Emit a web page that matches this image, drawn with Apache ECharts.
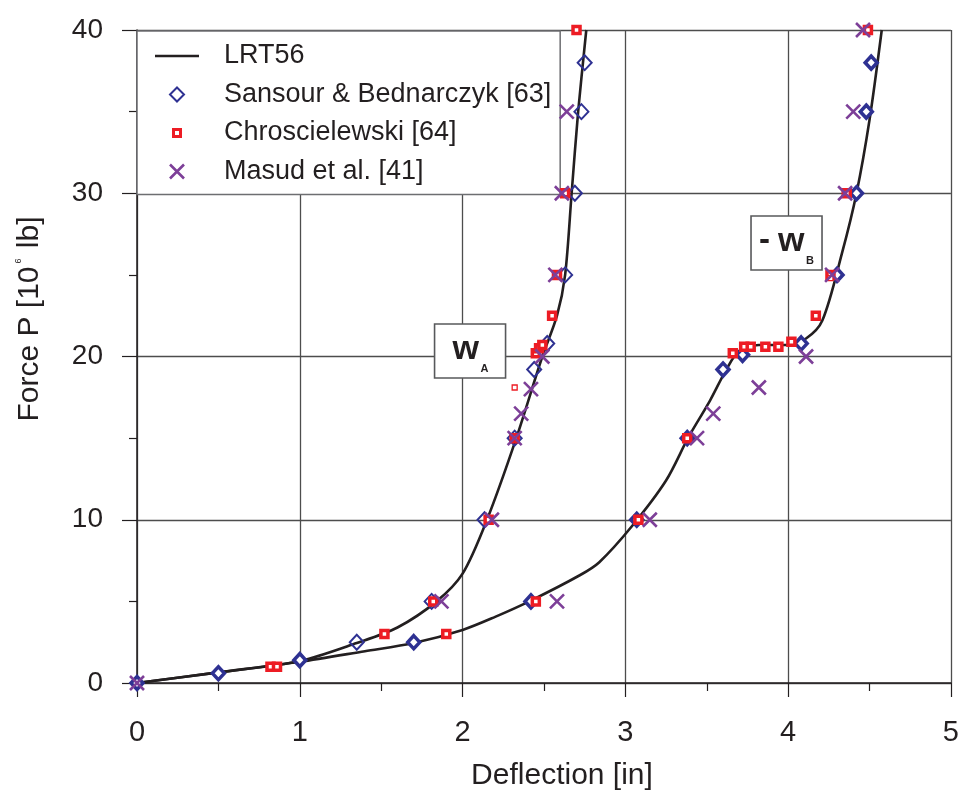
<!DOCTYPE html>
<html>
<head>
<meta charset="utf-8">
<script src="https://cdn.jsdelivr.net/npm/echarts@6/dist/echarts.min.js"></script>
<style>
html,body{margin:0;padding:0;background:#fff;}
#chart{width:962px;height:792px;}
</style>
</head>
<body>
<div id="chart"></div>
<script>
// ---- data (Deflection [in], Force P [10^6 lb]) ----
const xTicks = [0, 1, 2, 3, 4, 5];
const yTicks = [0, 10, 20, 30, 40];

const lrtCurveA = [[0,0],[0.5,0.65],[1.0,1.35],[1.35,2.45],[1.6,3.4],[1.84,5],[2.0,6.7],[2.15,10],[2.33,15],[2.49,20],[2.58,22.5],[2.63,25],[2.67,30],[2.71,35],[2.76,40]];
const lrtCurveB = [[0,0],[0.5,0.65],[1.0,1.3],[1.4,1.95],[1.70,2.45],[2.0,3.25],[2.2,4.05],[2.41,5.0],[2.72,6.6],[2.84,7.4],[3.04,9.6],[3.25,12.4],[3.39,15.1],[3.52,17.3],[3.62,19.2],[3.70,20.35],[3.82,20.7],[3.99,20.7],[4.11,21.1],[4.21,22.2],[4.33,26.3],[4.42,30],[4.50,34.5],[4.575,40]];

const sansourA = [[1.35,2.5],[1.81,5],[2.135,10],[2.32,15],[2.44,19.2],[2.52,20.8],[2.63,25],[2.69,30],[2.73,35],[2.75,38]];
const sansourB = [[0,0],[0.5,0.6],[1.0,1.4],[1.70,2.5],[2.42,5],[3.07,10],[3.38,15],[3.60,19.2],[3.72,20.1],[4.08,20.8],[4.30,25],[4.42,30],[4.48,35],[4.51,38]];

const chrosA = [[0.82,1.0],[0.86,1.0],[1.52,3.0],[1.82,5],[2.16,10],[2.32,15],[2.45,20.2],[2.47,20.5],[2.49,20.7],[2.55,22.5],[2.58,25],[2.63,30],[2.70,40]];
const chrosB = [[1.90,3.0],[2.45,5],[3.08,10],[3.38,15],[3.66,20.2],[3.73,20.6],[3.77,20.6],[3.86,20.6],[3.94,20.6],[4.02,20.9],[4.17,22.5],[4.26,25],[4.36,30],[4.49,40]];
const chrosSmall = [[2.32,18.1],[4.26,24.8]];

const masudA = [[0,0],[1.87,5],[2.18,10],[2.32,15],[2.36,16.5],[2.42,18.0],[2.49,20],[2.57,25],[2.61,30],[2.64,35]];
const masudB = [[2.58,5],[3.15,10],[3.44,15],[3.54,16.5],[3.82,18.1],[4.11,20],[4.27,25],[4.35,30],[4.40,35],[4.46,40]];

const seriesNames = ['LRT56', 'Sansour & Bednarczyk [63]', 'Chroscielewski [64]', 'Masud et al. [41]'];
const annotations = [
  {x: 2.046, y: 20.34, main: 'w', sub: 'A', dash: false},
  {x: 3.99, y: 26.95, main: 'w', sub: 'B', dash: true}
];

// ---- styles ----
const FONT = 'Liberation Sans';
const INK = '#231f20';
const BLUE = '#2e3192';
const RED = '#ed1c24';
const PURPLE = '#7d3f98';
const XPATH = 'path://M0,0L10,10M10,0L0,10';

const chart = echarts.init(document.getElementById('chart'), null, {renderer: 'canvas'});

function lineSeries(data) {
  return {name: seriesNames[0], type: 'line', data: data, smooth: 0.3,
    symbol: 'none', showSymbol: false, lineStyle: {color: INK, width: 2.6}, itemStyle: {color: INK}, z: 2, silent: true};
}
function scatter(name, data, symbol, size, itemStyle, z) {
  itemStyle.opacity = 1;
  return {name: name, type: 'scatter', data: data, symbol: symbol, symbolSize: size,
    itemStyle: itemStyle, clip: false, z: z, silent: true};
}

const option = {
  backgroundColor: '#fff',
  animation: false,
  grid: {left: 137, right: 10, top: 30, bottom: 109, containLabel: false},
  xAxis: {
    type: 'value', min: xTicks[0], max: xTicks[xTicks.length - 1], interval: 1,
    axisLine: {show: true, onZero: false, lineStyle: {color: INK, width: 1.5}},
    axisTick: {show: true, inside: false, length: 14, lineStyle: {color: INK, width: 1.2}},
    minorTick: {show: true, splitNumber: 2, length: 8, lineStyle: {color: INK, width: 1.2}},
    splitLine: {show: true, lineStyle: {color: '#4d4d4d', width: 1.3}},
    axisLabel: {fontSize: 29, fontFamily: FONT, color: INK, margin: 35}
  },
  yAxis: {
    type: 'value', min: yTicks[0], max: yTicks[yTicks.length - 1], interval: 10,
    axisLine: {show: true, onZero: false, lineStyle: {color: INK, width: 1.5}},
    axisTick: {show: true, inside: false, length: 15, lineStyle: {color: INK, width: 1.2}},
    minorTick: {show: true, splitNumber: 2, length: 8, lineStyle: {color: INK, width: 1.2}},
    splitLine: {show: true, lineStyle: {color: '#4d4d4d', width: 1.3}},
    axisLabel: {fontSize: 28, fontFamily: FONT, color: INK, margin: 34}
  },
  legend: {
    orient: 'vertical', left: 137, top: 31,
    backgroundColor: '#fff', borderColor: '#6d6e71', borderWidth: 1.5,
    padding: [10, 9, 8, 18], itemWidth: 44, itemHeight: 14, itemGap: 8.5,
    symbolKeepAspect: true,
    textStyle: {fontSize: 27, fontFamily: FONT, color: INK, lineHeight: 30, padding: [0, 0, 0, 20]},
    data: [
      {name: seriesNames[0], icon: 'path://M0,0H44V2.6H0Z', itemStyle: {color: INK, borderWidth: 0}},
      {name: seriesNames[1], icon: 'path://M7,0L14,7L7,14L0,7Z', itemStyle: {color: '#fff', borderColor: BLUE, borderWidth: 2}},
      {name: seriesNames[2], icon: 'path://M-2,-2L-2,-2M0,0H10V10H0ZM3,3V7H7V3ZM12,12L12,12', itemStyle: {color: RED, borderWidth: 0}},
      {name: seriesNames[3], icon: 'path://M0,0L14,14M14,0L0,14', itemStyle: {color: 'rgba(0,0,0,0)', borderColor: PURPLE, borderWidth: 2.6}}
    ]
  },
  series: [
    lineSeries(lrtCurveA),
    lineSeries(lrtCurveB),
    scatter(seriesNames[1], sansourB, 'diamond', [12, 13], {color: '#fff', borderColor: BLUE, borderWidth: 3.5}, 3),
    scatter(seriesNames[1], sansourA, 'diamond', [14, 15], {color: 'rgba(255,255,255,0)', borderColor: BLUE, borderWidth: 2}, 3),
    scatter(seriesNames[2], chrosA, 'rect', 7, {color: '#fff', borderColor: RED, borderWidth: 3.5}, 4),
    scatter(seriesNames[2], chrosB, 'rect', 7, {color: '#fff', borderColor: RED, borderWidth: 3.5}, 4),
    scatter(seriesNames[2], chrosSmall, 'rect', 5, {color: '#fff', borderColor: RED, borderWidth: 1.3}, 4),
    scatter(seriesNames[3], masudA, XPATH, 14, {color: 'rgba(0,0,0,0)', borderColor: PURPLE, borderWidth: 2.6}, 5),
    scatter(seriesNames[3], masudB, XPATH, 14, {color: 'rgba(0,0,0,0)', borderColor: PURPLE, borderWidth: 2.6}, 5)
  ]
};
chart.setOption(option);

// ---- axis titles and annotation boxes ----
const graphics = [
  {type: 'text', x: 562, y: 776, z: 10,
    style: {text: 'Deflection [in]', font: '30px "' + FONT + '"', fill: INK, align: 'center', verticalAlign: 'middle'}},
  {type: 'text', x: 30, y: 319, rotation: Math.PI / 2, z: 10,
    style: {text: '{a|Force P [10}{b|6}{a| lb]}', align: 'center', verticalAlign: 'middle',
      rich: {a: {fontSize: 30, fontFamily: FONT, fill: INK, lineHeight: 32},
             b: {fontSize: 9, fontFamily: FONT, fill: INK, verticalAlign: 'top', lineHeight: 32, padding: [0, 2, 0, 3]}}}}
];
annotations.forEach(function (a) {
  const p = chart.convertToPixel({gridIndex: 0}, [a.x, a.y]);
  const w = 71, h = 54;
  const left = p[0] - w / 2, top = p[1] - h / 2;
  graphics.push({type: 'rect', shape: {x: left, y: top, width: w, height: h}, z: 10,
    style: {fill: '#fff', stroke: '#58595b', lineWidth: 1.6}});
  let tx = left + (a.dash ? 27 : 18);
  if (a.dash) {
    graphics.push({type: 'text', x: left + 8, y: top + 25, z: 11,
      style: {text: '-', font: 'bold 33px "' + FONT + '"', fill: INK, verticalAlign: 'middle'}});
  }
  graphics.push({type: 'text', x: tx, y: top + 26, z: 11,
    style: {text: a.main, font: 'bold 34px "' + FONT + '"', fill: INK, verticalAlign: 'middle'}});
  graphics.push({type: 'text', x: tx + 28, y: top + 45, z: 11,
    style: {text: a.sub, font: 'bold 11px "' + FONT + '"', fill: INK, verticalAlign: 'middle'}});
});
chart.setOption({graphic: graphics});
</script>
</body>
</html>
